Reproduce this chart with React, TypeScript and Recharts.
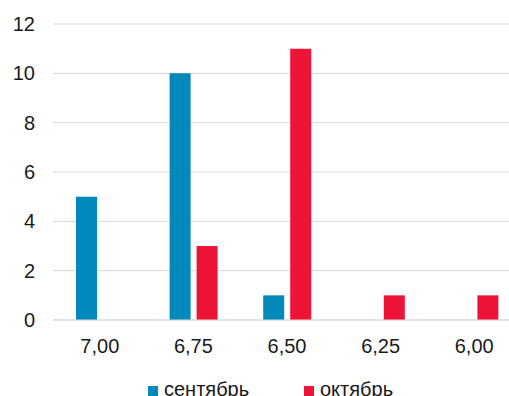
import { BarChart, Bar, XAxis, YAxis, CartesianGrid, Legend } from 'recharts'

const categories = ['7,00', '6,75', '6,50', '6,25', '6,00']
const september = [5, 10, 1, 0, 0]
const october = [0, 3, 11, 1, 1]
const yTicks = [0, 2, 4, 6, 8, 10, 12]

const BLUE = '#0089BA'
const RED = '#EE1438'
const FONT = '"Liberation Sans", Arial, sans-serif'
const FS = 20

const data = categories.map((c, i) => ({
  name: c,
  sep: september[i],
  oct: october[i],
}))

function LegendBox() {
  const items = [
    { label: 'сентябрь', color: BLUE, left: 148 },
    { label: 'октябрь', color: RED, left: 304 },
  ]
  return (
    <div style={{ position: 'relative', height: 24, fontFamily: FONT, fontSize: FS, color: '#1a1a1a' }}>
      {items.map((it) => (
        <div
          key={it.label}
          style={{ position: 'absolute', left: it.left, top: 0, lineHeight: '24px', whiteSpace: 'nowrap' }}
        >
          <span
            style={{
              display: 'inline-block',
              width: 10,
              height: 10,
              background: it.color,
              marginRight: 6,
              verticalAlign: 'baseline',
            }}
          />
          {it.label}
        </div>
      ))}
    </div>
  )
}

export default function App() {
  return (
    <div style={{ position: 'fixed', left: 0, top: 0, width: 509, height: 396, overflow: 'hidden', background: '#fff' }}>
      <BarChart
        width={521}
        height={396}
        data={data}
        margin={{ top: 24, right: 0, bottom: 0, left: 0 }}
        barSize={21}
        barGap={6}
      >
        <CartesianGrid vertical={false} stroke="#d9d9d9" />
        <XAxis
          dataKey="name"
          height={52}
          axisLine={{ stroke: '#d9d9d9' }}
          tickLine={false}
          tickMargin={13}
          tick={{ fontSize: FS, fill: '#1a1a1a', fontFamily: FONT }}
        />
        <YAxis
          width={53}
          domain={[0, 12]}
          ticks={yTicks}
          axisLine={false}
          tickLine={false}
          tickMargin={12}
          tick={{ fontSize: FS, fill: '#1a1a1a', fontFamily: FONT }}
        />
        <Legend verticalAlign="bottom" content={<LegendBox />} wrapperStyle={{ bottom: -5, left: 0, width: 521 }} />
        <Bar dataKey="sep" name="сентябрь" fill={BLUE} isAnimationActive={false} />
        <Bar dataKey="oct" name="октябрь" fill={RED} isAnimationActive={false} />
      </BarChart>
    </div>
  )
}
